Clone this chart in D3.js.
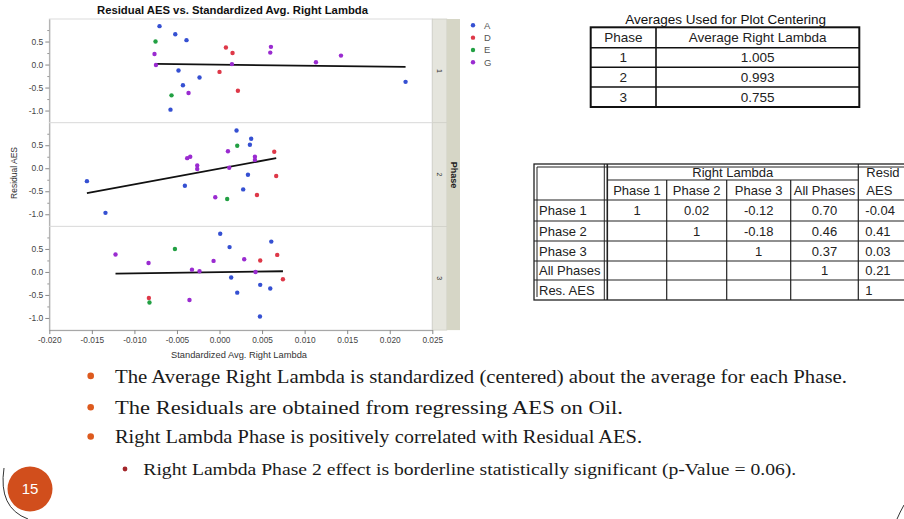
<!DOCTYPE html>
<html>
<head>
<meta charset="utf-8">
<script src="https://cdn.jsdelivr.net/npm/d3@7"></script>
<style>
  body { margin: 0; background: #fff; }
  svg { display: block; }
</style>
</head>
<body>
<svg id="slide" width="904" height="519"></svg>
<script>
// ---- data ----
const groups = ['A', 'D', 'E', 'G'];
const groupColors = ['#3550d2', '#de3848', '#22a043', '#9a2bd0'];
const phaseLabels = ['1', '2', '3'];

// [standardized avg right lambda, residual AES, group]
const phase1Points = [
    [-0.00705, 0.835, 'A'], [-0.00752, 0.50, 'E'], [-0.00764, 0.23, 'G'], [-0.00747, -0.01, 'G'],
    [-0.0052, 0.66, 'A'], [-0.00388, 0.53, 'A'], [-0.00482, -0.13, 'A'], [-0.00235, -0.28, 'A'],
    [-0.0043, -0.45, 'A'], [-0.00564, -0.67, 'E'], [-0.00364, -0.62, 'G'], [-0.00576, -0.98, 'A'],
    [0.00075, 0.37, 'D'], [0.00153, 0.25, 'D'], [0.00146, 0.01, 'G'], [0.0, -0.16, 'D'],
    [0.00216, -0.57, 'D'], [0.00604, 0.385, 'G'], [0.00596, 0.26, 'G'], [0.01133, 0.05, 'G'],
    [0.01427, 0.195, 'G'], [0.02186, -0.376, 'A']
];
const phase2Points = [
    [-0.01558, -0.28, 'A'], [-0.0134, -0.97, 'A'], [-0.00407, -0.38, 'A'], [-0.0038, 0.22, 'G'],
    [-0.00344, 0.25, 'G'], [-0.00262, 0.06, 'G'], [-0.00262, -0.015, 'G'], [0.00099, 0.37, 'G'],
    [0.00114, 0.01, 'G'], [-0.0005, -0.63, 'G'], [0.0009, -0.67, 'E'], [0.00208, 0.49, 'E'],
    [0.002, 0.82, 'A'], [0.00372, 0.64, 'A'], [0.00357, 0.51, 'A'], [0.00334, -0.14, 'A'],
    [0.00278, -0.46, 'A'], [0.00416, 0.25, 'G'], [0.00416, 0.18, 'G'], [0.0044, -0.58, 'D'],
    [0.00643, 0.36, 'D'], [0.00666, -0.17, 'D']
];
const phase3Points = [
    [-0.01222, 0.38, 'G'], [-0.00834, 0.195, 'G'], [-0.0083, -0.565, 'D'], [-0.00823, -0.665, 'E'],
    [-0.00524, 0.50, 'E'], [-0.00353, -0.61, 'G'], [-0.00324, 0.05, 'G'], [-0.00235, 0.015, 'G'],
    [0.00008, 0.83, 'A'], [0.00118, 0.54, 'A'], [0.00137, -0.12, 'A'], [0.00208, -0.45, 'A'],
    [-0.0007, 0.24, 'G'], [0.0029, 0.275, 'G'], [0.00423, 0.0, 'G'], [0.00478, 0.25, 'D'],
    [0.00478, -0.28, 'A'], [0.00475, -0.97, 'A'], [0.00608, 0.66, 'A'], [0.00596, -0.36, 'A'],
    [0.00678, 0.37, 'D'], [0.00745, -0.16, 'D']
];

// fitted line end points per phase
const fitStartX = [-0.00747, -0.01558, -0.01222];
const fitStartY = [0.015, -0.54, -0.035];
const fitEndX = [0.02186, 0.00666, 0.00745];
const fitEndY = [-0.05, 0.22, 0.015];

const xTicks = [-0.020, -0.015, -0.010, -0.005, 0.000, 0.005, 0.010, 0.015, 0.020, 0.025];
const yTicks = [0.5, 0.0, -0.5, -1.0];
const yMinorTicks = [0.75, 0.25, -0.25, -0.75];

// tables
const centeringPhases = ['1', '2', '3'];
const centeringAverages = ['1.005', '0.993', '0.755'];

const corrRowLabels = ['Phase 1', 'Phase 2', 'Phase 3', 'All Phases', 'Res. AES'];
const corrColLabels = ['Phase 1', 'Phase 2', 'Phase 3', 'All Phases'];
const corrValues = [
    ['1', '0.02', '-0.12', '0.70', '-0.04'],
    ['', '1', '-0.18', '0.46', '0.41'],
    ['', '', '1', '0.37', '0.03'],
    ['', '', '', '1', '0.21'],
    ['', '', '', '', '1']
];

const bullets = [
    'The Average Right Lambda is standardized (centered) about the average for each Phase.',
    'The Residuals are obtained from regressing AES on Oil.',
    'Right Lambda Phase is positively correlated with Residual AES.'
];
const subBullets = ['Right Lambda Phase 2 effect is borderline statistically significant (p-Value = 0.06).'];

// ---- drawing ----
const svg = d3.select('#slide');
const SANS = 'Liberation Sans, Arial, sans-serif';
const SERIF = 'Liberation Serif, Times New Roman, serif';
const colorOf = d3.scaleOrdinal().domain(groups).range(groupColors);

const plotLeft = 49.3, plotRight = 432.3;
const panelTops = [19, 122.7, 226.4];
const panelH = 103.7;
const x = d3.scaleLinear().domain([-0.020, 0.025]).range([plotLeft, plotRight]);

// title
svg.append('text')
    .attr('x', 97).attr('y', 13.5)
    .attr('textLength', 271).attr('lengthAdjust', 'spacingAndGlyphs')
    .attr('font-family', SANS).attr('font-size', '11px').attr('font-weight', 'bold')
    .attr('fill', '#111')
    .text('Residual AES vs. Standardized Avg. Right Lambda');

const allPoints = [phase1Points, phase2Points, phase3Points];

allPoints.forEach((pts, i) => {
    const top = panelTops[i];
    const y = d3.scaleLinear().domain([-1.264, 0.99]).range([top + panelH, top]);
    const g = svg.append('g').attr('class', 'panel');

    g.append('rect')
        .attr('x', plotLeft).attr('y', top)
        .attr('width', plotRight - plotLeft).attr('height', panelH)
        .attr('fill', '#fff').attr('stroke', '#dcdcdc').attr('stroke-width', 1);

    // y axis
    const yAxis = g.append('g')
        .attr('transform', `translate(${plotLeft},0)`)
        .call(d3.axisLeft(y).tickValues(yTicks).tickFormat(d => d.toFixed(1)).tickSize(4).tickSizeOuter(0));
    yAxis.select('.domain').attr('stroke', '#a0a0a0');
    yAxis.selectAll('.tick line').attr('stroke', '#888');
    yAxis.selectAll('.tick text')
        .attr('font-family', SANS).attr('font-size', '8.5px').attr('fill', '#444').attr('x', -6);

    g.append('g')
        .attr('transform', `translate(${plotLeft},0)`)
        .call(d3.axisLeft(y).tickValues(yMinorTicks).tickFormat('').tickSize(2).tickSizeOuter(0))
        .call(s => s.select('.domain').remove())
        .selectAll('.tick line').attr('stroke', '#999');

    // fit line
    g.append('line')
        .attr('x1', x(fitStartX[i])).attr('y1', y(fitStartY[i]))
        .attr('x2', x(fitEndX[i])).attr('y2', y(fitEndY[i]))
        .attr('stroke', '#111').attr('stroke-width', 1.8);

    // points
    g.selectAll('.pt')
        .data(pts)
        .enter()
        .append('circle')
        .attr('class', 'pt')
        .attr('cx', d => x(d[0]))
        .attr('cy', d => y(d[1]))
        .attr('r', 2.2)
        .attr('fill', d => colorOf(d[2]));

    // strip for phase level
    g.append('rect')
        .attr('x', plotRight).attr('y', top)
        .attr('width', 14.5).attr('height', panelH)
        .attr('fill', '#e5e5dd').attr('stroke', '#d0d0c8').attr('stroke-width', 0.8);
    g.append('text')
        .attr('transform', `translate(${plotRight + 5}, ${top + panelH / 2}) rotate(90)`)
        .attr('text-anchor', 'middle')
        .attr('font-family', SANS).attr('font-size', '7px').attr('fill', '#333')
        .text(phaseLabels[i]);
});

// outer strip
const stripBottom = panelTops[2] + panelH;
svg.append('rect')
    .attr('x', plotRight + 14.5).attr('y', panelTops[0])
    .attr('width', 13.2).attr('height', stripBottom - panelTops[0])
    .attr('fill', '#d6d6c6');
svg.append('text')
    .attr('transform', `translate(${plotRight + 18.5}, 175) rotate(90)`)
    .attr('text-anchor', 'middle')
    .attr('font-family', SANS).attr('font-size', '9px').attr('font-weight', 'bold').attr('fill', '#222')
    .text('Phase');

// x axis
const xAxis = svg.append('g')
    .attr('transform', `translate(0,${stripBottom})`)
    .call(d3.axisBottom(x).tickValues(xTicks).tickFormat(d => d.toFixed(3)).tickSize(4).tickSizeOuter(0));
xAxis.select('.domain').attr('stroke', '#a0a0a0');
xAxis.selectAll('.tick line').attr('stroke', '#888');
xAxis.selectAll('.tick text')
    .attr('font-family', SANS).attr('font-size', '8.3px').attr('fill', '#444');

// axis titles
svg.append('text')
    .attr('x', 239).attr('y', 358)
    .attr('text-anchor', 'middle')
    .attr('textLength', 136).attr('lengthAdjust', 'spacingAndGlyphs')
    .attr('font-family', SANS).attr('font-size', '8.5px').attr('fill', '#333')
    .text('Standardized Avg. Right Lambda');
svg.append('text')
    .attr('transform', 'translate(17,173) rotate(-90)')
    .attr('text-anchor', 'middle')
    .attr('font-family', SANS).attr('font-size', '8.5px').attr('fill', '#333')
    .text('Residual AES');

// legend
const legendY = d3.scalePoint().domain(groups).range([25.3, 62.3]);
const legend = svg.append('g');
legend.selectAll('circle')
    .data(groups)
    .enter()
    .append('circle')
    .attr('cx', 473).attr('cy', d => legendY(d))
    .attr('r', 2.2).attr('fill', d => colorOf(d));
legend.selectAll('text')
    .data(groups)
    .enter()
    .append('text')
    .attr('x', 484).attr('y', d => legendY(d) + 3.5)
    .attr('font-family', SANS).attr('font-size', '9.5px').attr('fill', '#555')
    .text(d => d);

// ---- table 1: averages used for plot centering ----
const t1 = svg.append('g');
const t1Cols = [590.7, 656, 859.3];
const t1Rows = [27.3, 47.7, 67.3, 87, 107];
t1.append('text')
    .attr('x', 725.7).attr('y', 24)
    .attr('text-anchor', 'middle')
    .attr('font-family', SANS).attr('font-size', '13.5px').attr('fill', '#111')
    .text('Averages Used for Plot Centering');
t1.append('rect')
    .attr('x', t1Cols[0]).attr('y', t1Rows[0])
    .attr('width', t1Cols[2] - t1Cols[0]).attr('height', t1Rows[4] - t1Rows[0])
    .attr('fill', 'none').attr('stroke', '#111').attr('stroke-width', 2);
t1.selectAll('.hline')
    .data(t1Rows.slice(1, 4))
    .enter()
    .append('line')
    .attr('x1', t1Cols[0]).attr('x2', t1Cols[2])
    .attr('y1', d => d).attr('y2', d => d)
    .attr('stroke', '#111').attr('stroke-width', 1.6);
t1.append('line')
    .attr('x1', t1Cols[1]).attr('x2', t1Cols[1])
    .attr('y1', t1Rows[0]).attr('y2', t1Rows[4])
    .attr('stroke', '#111').attr('stroke-width', 1.6);
const t1Text = [['Phase', 'Average Right Lambda']]
    .concat(centeringPhases.map((p, i) => [p, centeringAverages[i]]));
t1Text.forEach((row, r) => {
    row.forEach((cell, c) => {
        t1.append('text')
            .attr('x', (t1Cols[c] + t1Cols[c + 1]) / 2)
            .attr('y', (t1Rows[r] + t1Rows[r + 1]) / 2 + 4.7)
            .attr('text-anchor', 'middle')
            .attr('font-family', SANS).attr('font-size', '13.5px').attr('fill', '#222')
            .text(cell);
    });
});

// ---- table 2: correlations ----
const t2 = svg.append('g');
const t2Cols = [534, 607.3, 666.7, 726.7, 790.7, 858.3, 930];
const t2Rows = [164, 180, 200, 221, 241, 261, 280, 300];
const ink = '#222';
const line2 = (x1, y1, x2, y2, w) => t2.append('line')
    .attr('x1', x1).attr('y1', y1).attr('x2', x2).attr('y2', y2)
    .attr('stroke', ink).attr('stroke-width', w || 1.2);

// outer double border
t2.append('rect')
    .attr('x', t2Cols[0]).attr('y', t2Rows[0])
    .attr('width', t2Cols[6] - t2Cols[0]).attr('height', t2Rows[7] - t2Rows[0])
    .attr('fill', 'none').attr('stroke', ink).attr('stroke-width', 1.3);
line2(t2Cols[0] + 3, t2Rows[0] + 3, t2Cols[0] + 3, t2Rows[7] - 3, 1);
line2(t2Cols[0] + 3, t2Rows[0] + 3, t2Cols[6], t2Rows[0] + 3, 1);
// header separators
line2(t2Cols[1], t2Rows[1], t2Cols[5], t2Rows[1]);
for (let r = 2; r < 7; r++) line2(t2Cols[0], t2Rows[r], t2Cols[6], t2Rows[r]);
line2(t2Cols[1], t2Rows[0], t2Cols[1], t2Rows[7], 1.6);
line2(t2Cols[1] - 3, t2Rows[0], t2Cols[1] - 3, t2Rows[7], 1);
for (let c = 2; c < 5; c++) line2(t2Cols[c], t2Rows[1], t2Cols[c], t2Rows[7]);
line2(t2Cols[5], t2Rows[0], t2Cols[5], t2Rows[7]);

const t2Txt = (tx, ty, s, anchor) => t2.append('text')
    .attr('x', tx).attr('y', ty)
    .attr('text-anchor', anchor || 'middle')
    .attr('font-family', SANS).attr('font-size', '13px').attr('fill', '#222')
    .text(s);

t2Txt((t2Cols[1] + t2Cols[5]) / 2, (t2Rows[0] + t2Rows[1]) / 2 + 4.6, 'Right Lambda');
corrColLabels.forEach((s, c) => t2Txt((t2Cols[c + 1] + t2Cols[c + 2]) / 2, (t2Rows[1] + t2Rows[2]) / 2 + 4.6, s));
// the slide crops this header at its right edge
t2Txt(t2Cols[5] + 8, (t2Rows[0] + t2Rows[1]) / 2 + 4.6, 'Resid', 'start');
t2Txt(t2Cols[5] + 8, (t2Rows[1] + t2Rows[2]) / 2 + 4.6, 'AES', 'start');
corrRowLabels.forEach((s, r) => {
    const cy = (t2Rows[r + 2] + t2Rows[r + 3]) / 2 + 4.6;
    t2Txt(t2Cols[0] + 5, cy, s, 'start');
    corrValues[r].forEach((v, c) => {
        if (c < 4) t2Txt((t2Cols[c + 1] + t2Cols[c + 2]) / 2, cy, v);
        else t2Txt(t2Cols[5] + 7, cy, v, 'start');
    });
});

// ---- bullets ----
const bulletY = [382.7, 414, 443.3];
const bulletLen = [732, 508, 527];
bullets.forEach((s, i) => {
    svg.append('circle')
        .attr('cx', 90.7).attr('cy', bulletY[i] - 6.8).attr('r', 3.3)
        .attr('fill', '#dd5a1e');
    svg.append('text')
        .attr('x', 115).attr('y', bulletY[i])
        .attr('textLength', bulletLen[i]).attr('lengthAdjust', 'spacingAndGlyphs')
        .attr('font-family', SERIF).attr('font-size', '18.5px').attr('fill', '#1a1a1a')
        .text(s);
});
subBullets.forEach(s => {
    svg.append('circle')
        .attr('cx', 125).attr('cy', 469).attr('r', 2.4)
        .attr('fill', '#a3262a');
    svg.append('text')
        .attr('x', 143.3).attr('y', 475.3)
        .attr('textLength', 653).attr('lengthAdjust', 'spacingAndGlyphs')
        .attr('font-family', SERIF).attr('font-size', '17.5px').attr('fill', '#1a1a1a')
        .text(s);
});

// ---- page number ----
svg.append('path')
    .attr('d', 'M4,468 Q-2,508 28,519')
    .attr('fill', 'none').attr('stroke', '#333').attr('stroke-width', 1);
svg.append('circle')
    .attr('cx', 30).attr('cy', 489).attr('r', 22.5)
    .attr('fill', '#d14e1c');
svg.append('text')
    .attr('x', 30).attr('y', 494)
    .attr('text-anchor', 'middle')
    .attr('font-family', SANS).attr('font-size', '15px').attr('fill', '#fff')
    .text('15');
svg.append('path')
    .attr('d', 'M904,505 Q900,512 897,519')
    .attr('fill', 'none').attr('stroke', '#333').attr('stroke-width', 1);
</script>
</body>
</html>
